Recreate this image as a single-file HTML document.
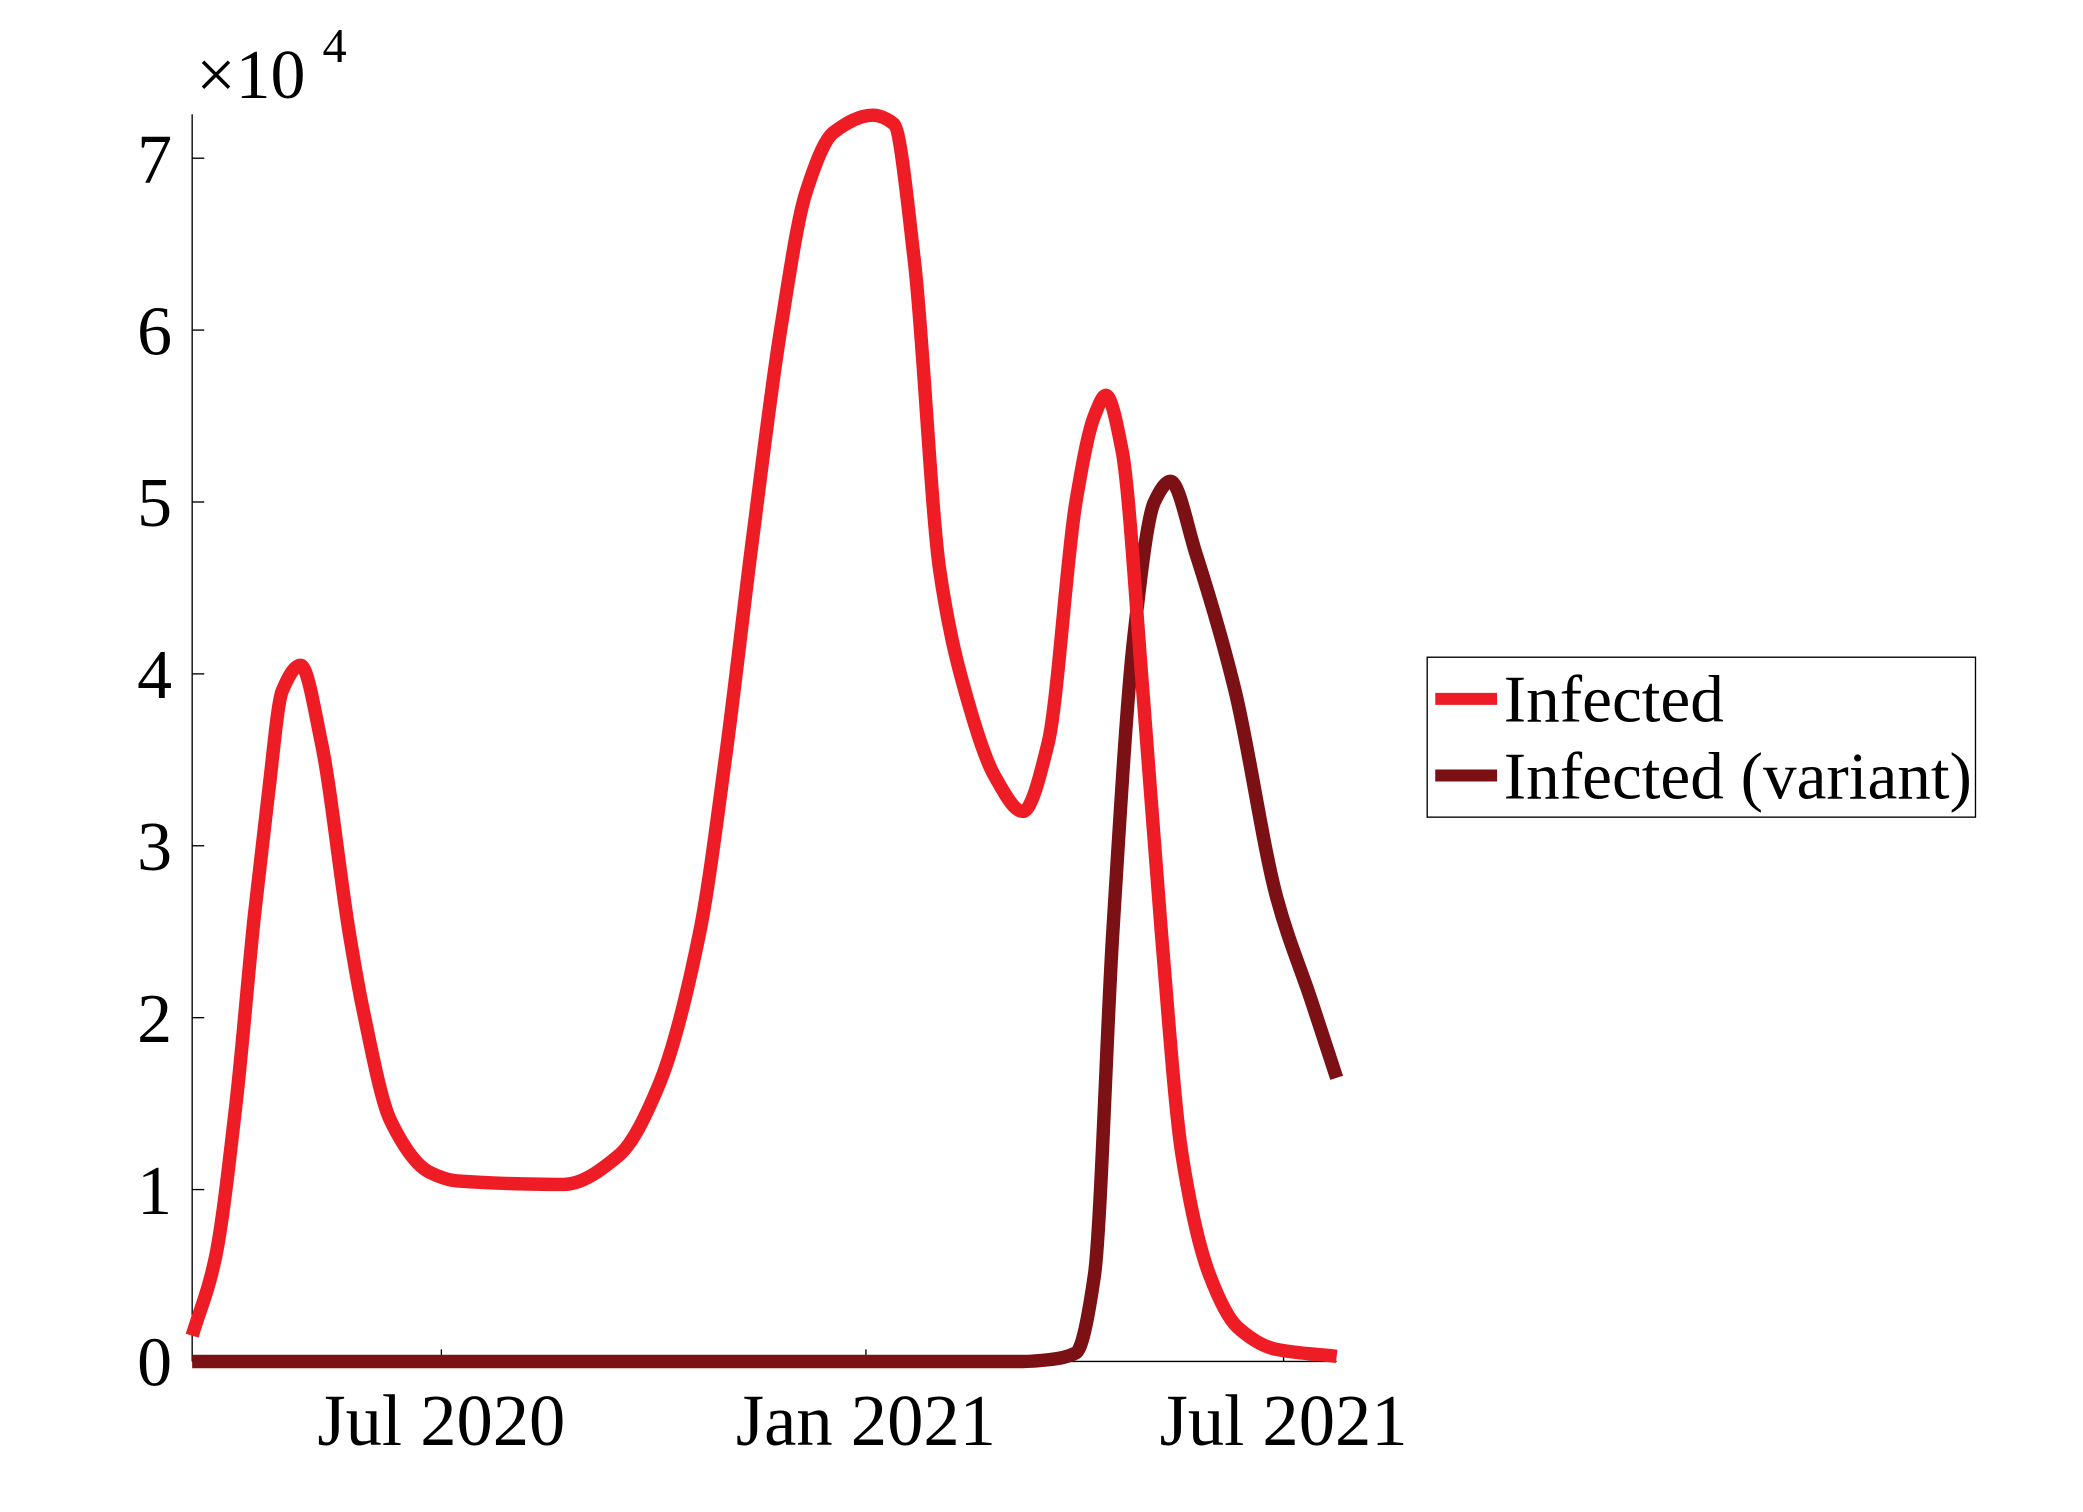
<!DOCTYPE html>
<html><head><meta charset="utf-8"><style>
html,body{margin:0;padding:0;background:#fff;}
svg{display:block;}
text{font-family:"Liberation Serif",serif;fill:#000;}
</style></head><body>
<svg id="chart" width="2083" height="1512" viewBox="0 0 1550 1125" preserveAspectRatio="none" xmlns="http://www.w3.org/2000/svg">
<rect width="1550" height="1125" fill="#fff"/>
<g id="axes"></g>
<g id="series"></g>
<g id="legend">
  <rect x="1062" y="489" width="408" height="119" fill="#fff" stroke="#000" stroke-width="1"/>
  <line x1="1068" y1="520" x2="1114" y2="520" stroke="#ee1c25" stroke-width="9"/>
  <text x="1119" y="537" font-size="50">Infected</text>
  <line x1="1068" y1="577" x2="1114" y2="577" stroke="#7b1015" stroke-width="9"/>
  <text x="1119" y="594" font-size="50">Infected (variant)</text>
</g>
<text x="146" y="73" font-size="52">×10</text>
<text x="240" y="46" font-size="36">4</text>
</svg>
<script>
const infDays = [0,10,19,27,33,39,47,56,68,74,86,103,115,161,185,202,220,231,243,255,266,278,295,304,313,324,336,348,360,371,383,391,396,403,412,420,429,441,453,470,496];
const infVals = [0.15,0.6,1.5,2.6,3.3,3.9,4.05,3.6,2.5,2.05,1.4,1.1,1.05,1.03,1.2,1.6,2.5,3.5,4.8,6.0,6.8,7.15,7.25,7.2,6.4,4.6,3.85,3.4,3.2,3.6,5.0,5.5,5.62,5.3,3.9,2.5,1.2,0.5,0.2,0.07,0.03];
const varDays = [0,360,371,383,391,399,408,417,424,435,452,470,485,496];
const varVals = [0,0,0.01,0.05,0.5,2.5,4.2,5.0,5.12,4.7,3.9,2.7,2.1,1.65];
const yTicks = [0,1,2,3,4,5,6,7];
const xTickDays = [108,292,473];
const xTickLabels = ["Jul 2020","Jan 2021","Jul 2021"];

const X0=143, PXD=1.717, Y0=1013, PYU=127.9;
const sx=d=>X0+d*PXD, sy=v=>Y0-v*PYU;
const NS="http://www.w3.org/2000/svg";
const axes=document.getElementById('axes'), series=document.getElementById('series');
function mk(tag,attrs,parent){const e=document.createElementNS(NS,tag);for(const k in attrs)e.setAttribute(k,attrs[k]);parent.appendChild(e);return e;}

let l=mk('line',{x1:X0,y1:85,x2:X0,y2:Y0,stroke:'#000','stroke-width':1},axes);


l=mk('line',{x1:X0,y1:Y0,x2:sx(496),y2:Y0,stroke:'#000','stroke-width':1},axes);


yTicks.forEach(v=>{
  const t=mk('line',{x1:X0,y1:sy(v),x2:X0+9,y2:sy(v),stroke:'#000','stroke-width':1},axes);
  
  
  const tx=mk('text',{x:X0-15,y:sy(v)+18,'font-size':52,'text-anchor':'end'},axes);
  tx.textContent=v;
  
  
});
xTickDays.forEach((d,i)=>{
  const t=mk('line',{x1:sx(d),y1:Y0,x2:sx(d),y2:Y0-9,stroke:'#000','stroke-width':1},axes);
  
  
  const tx=mk('text',{x:sx(d),y:1075,'font-size':54,'text-anchor':'middle'},axes);
  tx.textContent=xTickLabels[i];
  
  
});
function pathFrom(ds,vs){
  const xs=ds.map(sx), ys=vs.map(sy), n=xs.length;
  const dl=[],m=[];
  for(let i=0;i<n-1;i++) dl.push((ys[i+1]-ys[i])/(xs[i+1]-xs[i]));
  m[0]=dl[0]; m[n-1]=dl[n-2];
  for(let i=1;i<n-1;i++){
    if(dl[i-1]*dl[i]<=0) m[i]=0;
    else { const w1=2*(xs[i+1]-xs[i])+(xs[i]-xs[i-1]), w2=(xs[i+1]-xs[i])+2*(xs[i]-xs[i-1]); m[i]=(w1+w2)/(w1/dl[i-1]+w2/dl[i]); }
  }
  let s='M'+xs[0]+','+ys[0];
  for(let i=0;i<n-1;i++){
    const h=(xs[i+1]-xs[i])/3;
    s+=' C'+(xs[i]+h)+','+(ys[i]+m[i]*h)+' '+(xs[i+1]-h)+','+(ys[i+1]-m[i+1]*h)+' '+xs[i+1]+','+ys[i+1];
  }
  return s;
}
const pv=mk('path',{d:pathFrom(varDays,varVals),fill:'none',stroke:'#7b1015','stroke-width':10,'stroke-linejoin':'round'},series);


const pi=mk('path',{d:pathFrom(infDays,infVals),fill:'none',stroke:'#ee1c25','stroke-width':10,'stroke-linejoin':'round'},series);


</script>
</body></html>
